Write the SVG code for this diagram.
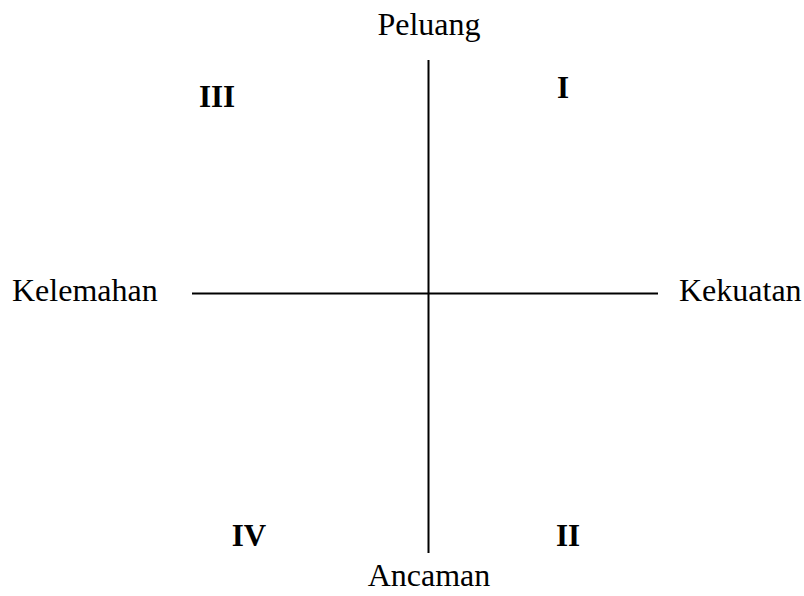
<svg xmlns="http://www.w3.org/2000/svg" width="804" height="596" viewBox="0 0 804 596">
<style>
.lbl{font-family:"Liberation Serif","Times New Roman",serif;font-size:32px;fill:#000}
.num{font-family:"Liberation Serif","Times New Roman",serif;font-size:31px;font-weight:bold;fill:#000}
.ax{stroke:#000;stroke-width:2;fill:none}
</style>
<rect width="804" height="596" fill="#fff"/>
<g id="connectors">
<line class="ax" x1="428.5" y1="60" x2="428.5" y2="553"/>
<line class="ax" x1="192" y1="293.5" x2="658" y2="293.5"/>
</g>
<g id="peluang"><text class="lbl" x="429" y="35" text-anchor="middle">Peluang</text></g>
<g id="ancaman"><text class="lbl" x="429" y="586" text-anchor="middle">Ancaman</text></g>
<g id="kelemahan"><text class="lbl" x="12" y="301">Kelemahan</text></g>
<g id="kekuatan"><text class="lbl" x="679" y="301">Kekuatan</text></g>
<g id="q1"><text class="num" x="563" y="98" text-anchor="middle">I</text></g>
<g id="q2"><text class="num" x="568" y="546" text-anchor="middle">II</text></g>
<g id="q3"><text class="num" x="217" y="107" text-anchor="middle">III</text></g>
<g id="q4"><text class="num" x="249" y="546" text-anchor="middle">IV</text></g>
</svg>
